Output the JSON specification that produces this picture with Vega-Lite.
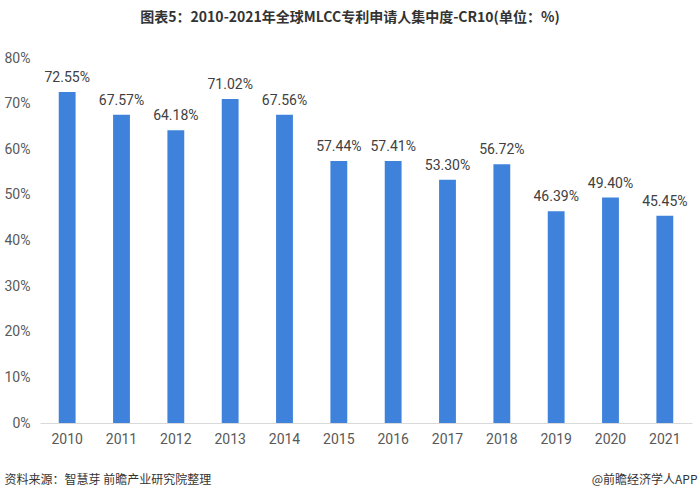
{
  "$schema": "https://vega.github.io/schema/vega-lite/v6.json",
  "autosize": "none",
  "width": 652,
  "height": 365,
  "padding": {"left": 40, "top": 58, "right": 8, "bottom": 76},
  "background": "white",
  "config": {"view": {"stroke": null}, "font": "Noto Sans CJK SC"},
  "title": {
    "text": "图表5：2010-2021年全球MLCC专利申请人集中度-CR10(单位：%)",
    "font": "Noto Sans CJK SC",
    "fontSize": 14,
    "fontWeight": "bold",
    "color": "#333333",
    "anchor": "middle",
    "dx": -16,
    "offset": 26
  },
  "data": {
    "values": [
      {"year": "2010", "cr10": 0.7255},
      {"year": "2011", "cr10": 0.6757},
      {"year": "2012", "cr10": 0.6418},
      {"year": "2013", "cr10": 0.7102},
      {"year": "2014", "cr10": 0.6756},
      {"year": "2015", "cr10": 0.5744},
      {"year": "2016", "cr10": 0.5741},
      {"year": "2017", "cr10": 0.5330},
      {"year": "2018", "cr10": 0.5672},
      {"year": "2019", "cr10": 0.4639},
      {"year": "2020", "cr10": 0.4940},
      {"year": "2021", "cr10": 0.4545}
    ]
  },
  "layer": [
    {
      "mark": {"type": "bar", "color": "#3f82dc"},
      "encoding": {
        "x": {
          "field": "year", "type": "nominal", "sort": null,
          "scale": {"paddingInner": 0.69, "paddingOuter": 0.345},
          "axis": {
            "labelAngle": 0, "labelFont": "Roboto", "labelFontSize": 14, "labelColor": "#595959",
            "labelPadding": 9,
            "domainColor": "#d9d9d9", "ticks": false,
            "title": "资料来源：智慧芽 前瞻产业研究院整理",
            "titleFont": "Noto Sans CJK SC", "titleFontSize": 12, "titleFontWeight": "normal", "titleColor": "#333333",
            "titleAnchor": "start", "titleAlign": "left", "titleBaseline": "middle",
            "titleX": -36, "titleY": 56
          }
        },
        "y": {
          "field": "cr10", "type": "quantitative",
          "scale": {"domain": [0, 0.8], "nice": false},
          "axis": {
            "values": [0, 0.1, 0.2, 0.3, 0.4, 0.5, 0.6, 0.7, 0.8],
            "format": ".0%", "grid": false, "domain": false, "ticks": false,
            "labelFont": "Roboto", "labelFontSize": 14, "labelColor": "#595959",
            "labelPadding": 10, "title": null
          }
        }
      }
    },
    {
      "mark": {"type": "text", "dy": -14, "font": "Roboto", "fontSize": 14, "color": "#404040"},
      "encoding": {
        "x": {
          "field": "year", "type": "nominal", "sort": null,
          "axis": {
            "orient": "top", "labels": false, "domain": false, "ticks": false, "grid": false,
            "title": "@前瞻经济学人APP",
            "titleFont": "Noto Sans CJK SC", "titleFontSize": 12, "titleFontWeight": "normal", "titleColor": "#333333",
            "titleAnchor": "end", "titleAlign": "right", "titleBaseline": "middle",
            "titleX": 657, "titleY": 421
          }
        },
        "y": {"field": "cr10", "type": "quantitative"},
        "text": {"field": "cr10", "type": "quantitative", "format": ".2%"}
      }
    }
  ],
  "resolve": {"axis": {"x": "independent"}}
}
